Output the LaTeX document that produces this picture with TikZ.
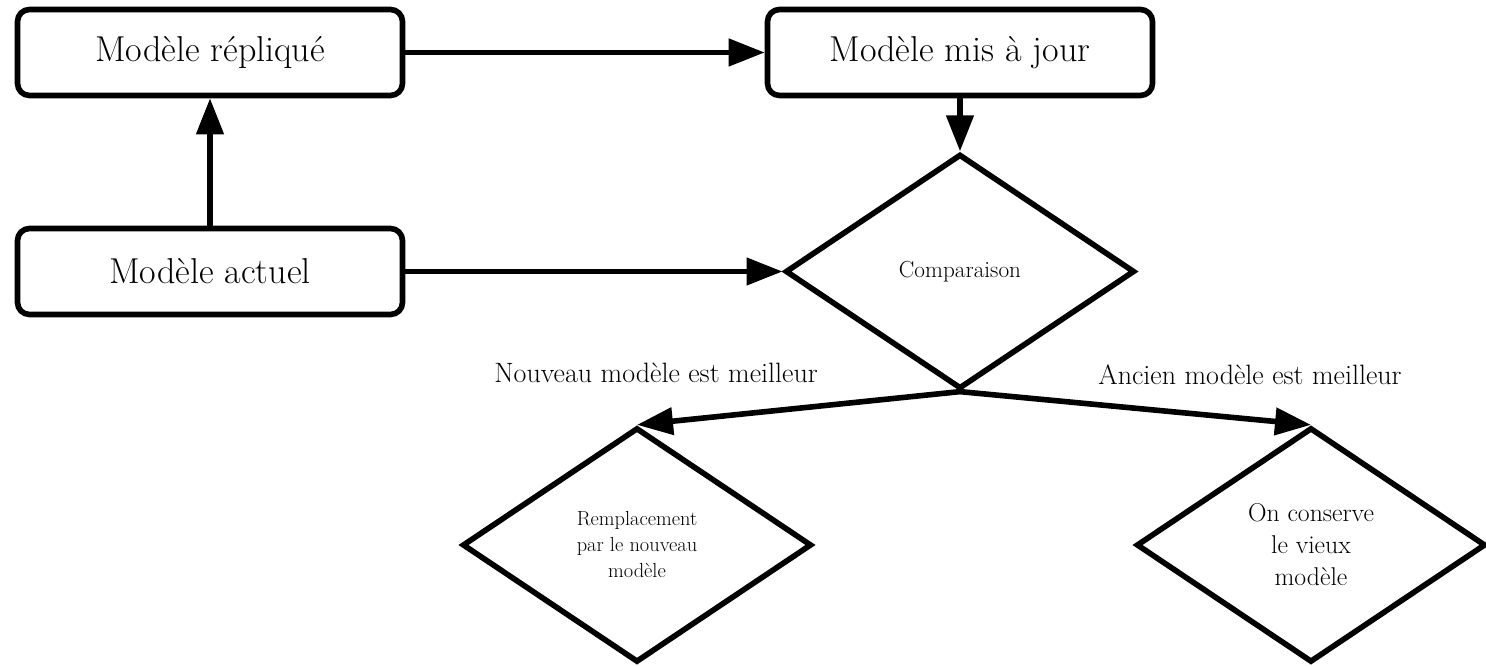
\documentclass[tikz,border=0pt]{standalone}
\usetikzlibrary{shapes.geometric,arrows.meta}
\begin{document}
\begin{tikzpicture}[x=0.75pt,y=-0.75pt,
  box/.style={draw, line width=4.2pt, rounded corners=9pt, minimum width=288.75pt, minimum height=64.5pt, inner sep=0pt, font=\fontsize{27}{32}\selectfont},
  dec/.style={draw, diamond, aspect=1.5, line width=4.2pt, minimum width=262pt, minimum height=176pt, inner sep=0pt, align=center},
  conn/.style={line width=4.2pt, -{Triangle[length=27pt,width=20pt]}},
  lbl/.style={font=\fontsize{21}{25}\selectfont}]
\useasboundingbox (0,0) rectangle (1486,666);
\node[box] (rep) at (210,52.5) {Modèle répliqué};
\node[box] (maj) at (960,52.5) {Modèle mis à jour};
\node[box] (act) at (210,271.5) {Modèle actuel};
\node[dec, font=\fontsize{17.4}{21}\selectfont] (cmp) at (960,271.5) {Comparaison};
\node[dec, font=\fontsize{15.3}{19.5}\selectfont] (rem) at (637,545) {Remplacement\\par le nouveau\\modèle};
\node[dec, font=\fontsize{19.3}{24}\selectfont] (cons) at (1311,545) {On conserve\\le vieux\\modèle};
\node[lbl] (lnew) at (656,373) {Nouveau modèle est meilleur};
\node[lbl] (lold) at (1250,375) {Ancien modèle est meilleur};
\draw[conn] (rep.east) -- (maj.west);
\draw[conn] (act.north) -- (rep.south);
\draw[conn] (maj.south) -- (cmp.north);
\draw[conn] (act.east) -- (cmp.west);
\draw[conn] (cmp.south) -- (rem.north);
\draw[conn] (cmp.south) -- (cons.north);
\end{tikzpicture}
\end{document}
